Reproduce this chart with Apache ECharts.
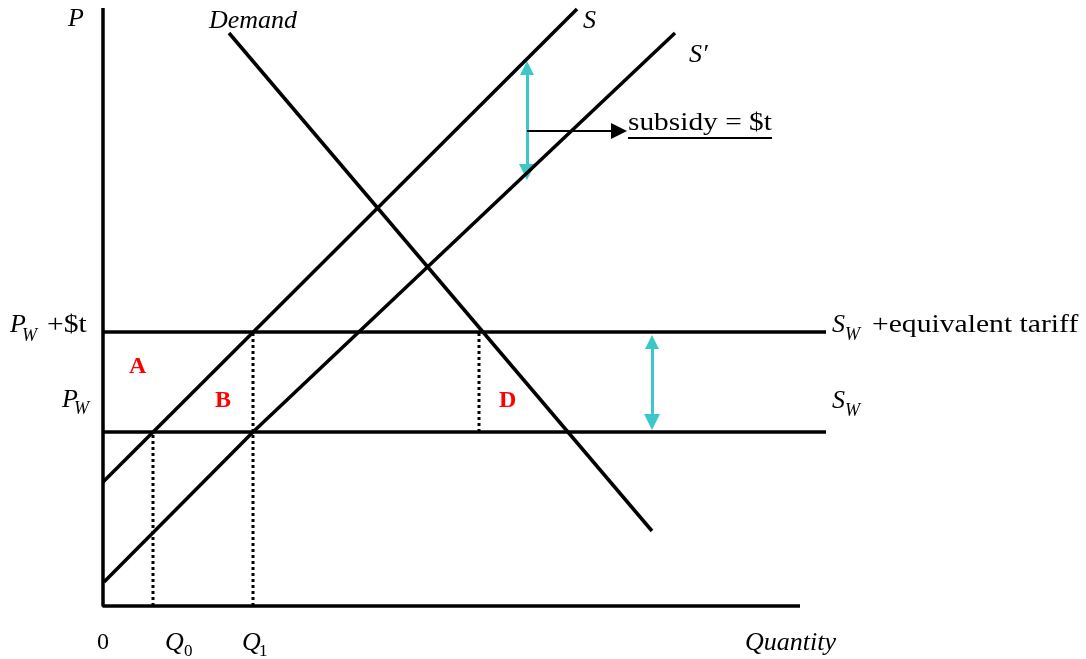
<!DOCTYPE html>
<html>
<head>
<meta charset="utf-8">
<script src="https://cdn.jsdelivr.net/npm/echarts@6/dist/echarts.min.js"></script>
<style>
  html, body { margin: 0; padding: 0; background: #fff; }
  #main { width: 1086px; height: 659px; }
</style>
</head>
<body>
<div id="main"></div>
<script>
// quantities / prices in chart units (origin at the axes corner)
var axisPath = [[0, 598], [0, 0], [697, 0]];
var supplyS = [[0, 124], [474, 597]];
var supplySPrime = [[1, 24], [150, 174], [572, 573]];
var demandLine = [[126, 573], [549, 75]];
var priceWorld = 174;          // P_W
var priceWorldTariff = 274;    // P_W + $t
var worldLineEnd = 723;
var q0 = 50, q1 = 150, qImport = 376;
// arrow ends (symbol centres; tips sit half a head further out)
var subsidyArrow = [[424, 538], [424, 434]];
var tariffArrow = [[549, 264], [549, 184]];
var pointerArrow = [[424, 475], [516, 475]];

var ink = '#000';
var cyan = '#3cc8c8';
var serif = '"Liberation Serif", "Times New Roman", serif';

function hline(y) { return [[0, y], [worldLineEnd, y]]; }
function solid(data, w) {
    return {
        type: 'line', data: data, showSymbol: false, clip: false, silent: true,
        lineStyle: { color: ink, width: w || 3.5 }
    };
}
function dotted(data) {
    return {
        type: 'line', data: data, showSymbol: false, clip: false, silent: true,
        lineStyle: { color: ink, width: 3, type: [3, 3] }
    };
}
function arrow(coords, color, both, w, size) {
    return {
        type: 'lines', coordinateSystem: 'cartesian2d', silent: true,
        symbol: both ? ['triangle', 'triangle'] : ['none', 'triangle'],
        symbolSize: size,
        lineStyle: { color: color, width: w, opacity: 1 },
        data: [{ coords: coords }]
    };
}
function txt(x, y, s, size, opts) {
    opts = opts || {};
    return {
        type: 'text', left: x, top: y - size / 2 - 1, silent: true,
        scaleX: opts.sx || 1,
        style: {
            text: s, fill: opts.fill || ink,
            font: (opts.italic ? 'italic ' : '') + (opts.bold ? 'bold ' : '') + size + 'px ' + serif
        }
    };
}

var chart = echarts.init(document.getElementById('main'));
chart.setOption({
    animation: false,
    grid: { left: 103, right: 260, top: 8, bottom: 53 },
    xAxis: { type: 'value', min: 0, max: 723, show: false },
    yAxis: { type: 'value', min: 0, max: 598, show: false },
    series: [
        solid(axisPath),
        solid(hline(priceWorldTariff)),
        solid(hline(priceWorld)),
        solid(supplyS),
        solid(supplySPrime),
        solid(demandLine),
        dotted([[q0, 0], [q0, priceWorld]]),
        dotted([[q1, 0], [q1, priceWorldTariff]]),
        dotted([[qImport, priceWorld], [qImport, priceWorldTariff]]),
        arrow(subsidyArrow, cyan, true, 3, [14, 16]),
        arrow(tariffArrow, cyan, true, 3, [14, 16]),
        arrow(pointerArrow, ink, false, 2, [14, 16])
    ],
    graphic: [
        txt(68, 20, 'P', 26, { italic: true }),
        txt(209, 22, 'Demand', 26, { italic: true }),
        txt(583, 22, 'S', 26, { italic: true }),
        txt(689, 56, 'S\u2032', 26, { italic: true }),
        txt(628, 124, 'subsidy = $t', 26, { sx: 1.13 }),
        { type: 'line', silent: true, shape: { x1: 628, y1: 138, x2: 772, y2: 138 },
          style: { stroke: ink, lineWidth: 2 } },
        txt(10, 326, 'P', 26, { italic: true }),
        txt(22, 337, 'W', 18, { italic: true }),
        txt(47, 326, '+$t', 26, { sx: 1.14 }),
        txt(62, 401, 'P', 26, { italic: true }),
        txt(74, 410, 'W', 18, { italic: true }),
        txt(832, 326, 'S', 26, { italic: true }),
        txt(845, 336, 'W', 18, { italic: true }),
        txt(872, 326, '+equivalent tariff', 26, { sx: 1.14 }),
        txt(832, 402, 'S', 26, { italic: true }),
        txt(845, 412, 'W', 18, { italic: true }),
        txt(129, 368, 'A', 24, { bold: true, fill: '#ff0000' }),
        txt(215, 402, 'B', 24, { bold: true, fill: '#ff0000' }),
        txt(499, 402, 'D', 24, { bold: true, fill: '#ff0000' }),
        txt(97, 644, '0', 24),
        txt(165, 644, 'Q', 26, { italic: true }),
        txt(184, 653, '0', 17),
        txt(242, 644, 'Q', 26, { italic: true }),
        txt(259, 653, '1', 17),
        txt(745, 644, 'Quantity', 26, { italic: true })
    ]
});
</script>
</body>
</html>
